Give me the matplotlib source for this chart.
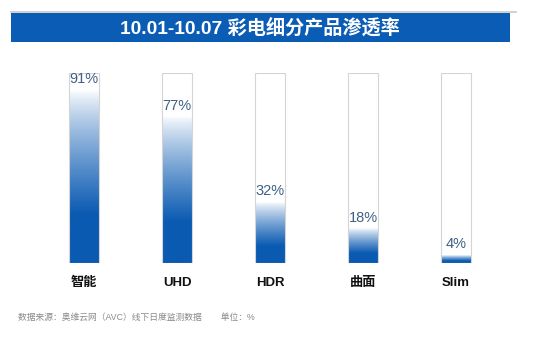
import numpy as np
import matplotlib
matplotlib.use("Agg")
import matplotlib.pyplot as plt
from matplotlib.patches import Rectangle
from matplotlib.lines import Line2D

plt.rcParams['font.family'] = ['Liberation Sans', 'Noto Sans CJK SC', 'DejaVu Sans']

# Dati
categorie = ["智能", "UHD", "HDR", "曲面", "Slim"]
valori = [91, 77, 32, 18, 4]
etichette = ["91%", "77%", "32%", "18%", "4%"]

titolo = "10.01-10.07 彩电细分产品渗透率"
fonte = "数据来源：奥维云网（AVC）线下日度监测数据        单位：%"

blu = np.array([0x0a, 0x5a, 0xb2]) / 255.0
bianco = np.array([1.0, 1.0, 1.0])

W, H = 541, 360
fig = plt.figure(figsize=(W / 100, H / 100), dpi=100)

# Barra del titolo
fig.add_artist(Line2D([11 / W, 516 / W], [1 - 12 / H, 1 - 12 / H],
                      color="#c8c8c8", linewidth=1.2))
fig.add_artist(Rectangle((11 / W, 1 - 42 / H), 499 / W, 29 / H,
                         transform=fig.transFigure, facecolor="#0a5cb5",
                         edgecolor="none"))
fig.text(260 / W, 1 - 28 / H, titolo, color="white", fontsize=13.8,
         fontweight="bold", ha="center", va="center")

# Asse del grafico
ax = fig.add_axes([37.5 / W, 97 / H, 465 / W, 190 / H])
larghezza = 0.32

# Gradiente verticale (blu in basso, bianco in alto)
n = 256
f = np.linspace(0, 1, n)[:, None]          # 0 = basso, 1 = alto
t = np.clip((1 - f) / 0.72, 0, 1) ** 0.8
img = (bianco * (1 - t[..., None]) + blu * t[..., None]).reshape(n, 1, 3)

for i, v in enumerate(valori):
    ax.imshow(img, extent=[i - larghezza / 2, i + larghezza / 2, 0, v],
              origin="lower", aspect="auto", interpolation="bilinear", zorder=1)
    ax.bar(i, 100, width=larghezza, fill=False, edgecolor="#d4d4d4",
           linewidth=0.8, zorder=2)
    ax.annotate(etichette[i], (i, v), xytext=(0, 3), textcoords="offset points",
                ha="center", va="bottom", fontsize=10.5, color="#3d6185", zorder=3)

ax.set_xlim(-0.5, len(categorie) - 0.5)
ax.set_ylim(0, 100)
ax.set_xticks(range(len(categorie)))
ax.set_xticklabels(categorie, fontsize=9.5, fontweight="bold", color="#111111")
ax.tick_params(axis="x", length=0, pad=10)
ax.set_yticks([])
for s in ax.spines.values():
    s.set_visible(False)

# Fonte
fig.text(18 / W, 1 - 317 / H, fonte, fontsize=6.3, color="#8a8a8a",
         ha="left", va="center")

fig.savefig("out.png", dpi=100, facecolor="white")
